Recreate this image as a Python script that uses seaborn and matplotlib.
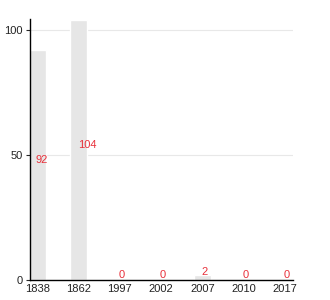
import matplotlib
matplotlib.use("Agg")
import matplotlib.pyplot as plt
import seaborn as sns
import pandas as pd

years = ["1838", "1862", "1997", "2002", "2007", "2010", "2017"]
counts = [92, 104, 0, 0, 2, 0, 0]

sns.set_style("white")
plt.rcParams['font.family'] = ['Liberation Sans', 'DejaVu Sans']

df = pd.DataFrame({"year": years, "count": counts})

fig = plt.figure(figsize=(3.3, 3.0), dpi=100)
ax = fig.add_axes([0.091, 0.0667, 0.797, 0.87])
sns.barplot(data=df, x="year", y="count", color="#e6e6e6", width=0.4,
            saturation=1, ax=ax, zorder=2)
ax.set_xlim(-0.18, 6.2)
ax.set_ylim(0, 104.4)
ax.set_yticks([0, 50, 100])
ax.yaxis.grid(True, color="#e8e8e8", linewidth=0.8, zorder=0)
ax.set_axisbelow(True)
for s in ["top", "right"]:
    ax.spines[s].set_visible(False)
for s in ["left", "bottom"]:
    ax.spines[s].set_color("black")
    ax.spines[s].set_linewidth(1.0)
ax.tick_params(axis="y", length=3, width=0.8, labelsize=8, pad=2, left=True,
               labelcolor="#222222")
ax.tick_params(axis="x", length=0, labelsize=8, pad=3, labelcolor="#222222")
ax.set_xlabel("")
ax.set_ylabel("")
for i, v in enumerate(counts):
    dx = 0.22 if v > 100 else (0.1 if v > 50 else 0.05)
    ax.text(i + dx, v / 2 + 2, str(v), color="#e8303a",
            fontsize=8, ha="center", va="center", zorder=3)
fig.savefig("out.png", dpi=100)
